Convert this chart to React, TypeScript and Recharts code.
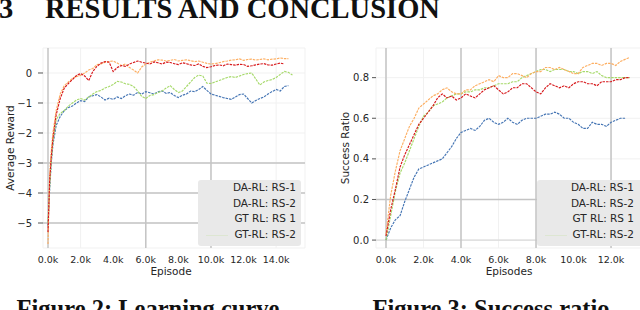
import React from 'react';
import { LineChart, Line, XAxis, YAxis, CartesianGrid, ReferenceLine } from 'recharts';

// ---------- shared ----------
const SERIES_NAMES = ['DA-RL: RS-1', 'DA-RL: RS-2', 'GT RL: RS 1', 'GT-RL: RS-2'];
const SERIES_COLORS = ['#d7191c', '#fdae61', '#4575b4', '#a6d96a'];
const DRAW_ORDER = [2, 3, 1, 0];

// ---------- Figure 2: learning curve (episodes in thousands) ----------
const LEFT_EPISODES = [0, 0.1, 0.2, 0.3, 0.5, 0.75,
  1, 1.25, 1.5, 1.75, 2, 2.25, 2.5, 2.75, 3, 3.25, 3.5, 3.75, 4, 4.25, 4.5, 4.75,
  5, 5.25, 5.5, 5.75, 6, 6.25, 6.5, 6.75, 7, 7.25, 7.5, 7.75, 8, 8.25, 8.5, 8.75,
  9, 9.25, 9.5, 9.75, 10, 10.25, 10.5, 10.75, 11, 11.25, 11.5, 11.75, 12, 12.25, 12.5, 12.75,
  13, 13.25, 13.5, 13.75, 14, 14.25, 14.5, 14.75, 15];
const LEFT_RED = [-5.3, -3.6, -2.8, -2.2, -1.4, -0.85,
  -0.5, -0.35, -0.22, -0.08, -0.02, -0.1, -0.25, 0.05, 0.22, 0.33, 0.38, 0.36, 0.05, 0.18, 0.25, 0.22,
  0.3, 0.35, 0.4, 0.36, 0.33, 0.3, 0.37, 0.34, 0.3, 0.36, 0.35, 0.31, 0.28, 0.34, 0.31, 0.27,
  0.25, 0.3, 0.22, 0.18, 0.21, 0.25, 0.27, 0.24, 0.3, 0.28, 0.26, 0.29, 0.28, 0.22, 0.24, 0.27,
  0.3, 0.31, 0.27, 0.26, 0.3, 0.33, 0.3, null, null];
const LEFT_ORANGE = [-5.7, -3.4, -2.6, -2.0, -1.25, -0.7,
  -0.42, -0.3, -0.18, -0.12, -0.08, 0.0, 0.1, 0.15, 0.28, 0.3, 0.36, 0.38, 0.4, 0.33, 0.25, 0.3,
  0.18, 0.1, 0.0, 0.2, 0.3, 0.36, 0.4, 0.44, 0.43, 0.4, 0.42, 0.45, 0.4, 0.42, 0.44, 0.41,
  0.38, 0.4, 0.36, 0.32, 0.3, 0.31, 0.34, 0.38, 0.4, 0.43, 0.44, 0.47, 0.42, 0.45, 0.46, 0.43,
  0.45, 0.47, 0.44, 0.46, 0.47, 0.5, 0.48, 0.48, null];
const LEFT_BLUE = [-5.1, -3.9, -3.0, -2.4, -1.75, -1.45,
  -1.25, -1.15, -1.1, -1.0, -0.92, -0.95, -0.8, -0.76, -0.72, -0.8, -0.9, -0.84, -0.88, -0.8, -0.85, -0.76,
  -0.7, -0.74, -0.65, -0.7, -0.62, -0.66, -0.7, -0.63, -0.6, -0.68, -0.65, -0.75, -0.82, -0.74, -0.7, -0.6,
  -0.62, -0.55, -0.45, -0.58, -0.7, -0.74, -0.78, -0.82, -0.85, -0.88, -0.8, -0.72, -0.7, -0.85, -1.0, -0.92,
  -0.85, -0.8, -0.7, -0.62, -0.55, -0.6, -0.45, -0.42, null];
const LEFT_GREEN = [-5.0, -3.8, -2.9, -2.3, -1.55, -1.35,
  -1.25, -1.1, -1.0, -0.9, -0.85, -0.9, -0.8, -0.7, -0.62, -0.58, -0.5, -0.45, -0.38, -0.28, -0.3, -0.36,
  -0.38, -0.45, -0.6, -0.78, -0.85, -0.75, -0.72, -0.65, -0.6, -0.5, -0.42, -0.55, -0.65, -0.6, -0.45, -0.3,
  -0.15, -0.07, -0.1, -0.34, -0.35, -0.3, -0.25, -0.2, -0.15, -0.12, -0.15, -0.1, -0.05, -0.02, 0.0, -0.2,
  -0.4, -0.3, -0.25, -0.22, -0.15, -0.05, 0.05, 0.02, -0.07];
const LEFT_X_TICKS = [0, 2, 4, 6, 8, 10, 12, 14];
const LEFT_Y_TICKS = [-5, -4, -3, -2, -1, 0];

// ---------- Figure 3: success ratio (episodes in thousands) ----------
const RIGHT_EPISODES = [0, 0.25, 0.5, 0.75, 1, 1.25, 1.5, 1.75, 2, 2.25, 2.5, 2.75, 3, 3.25, 3.5, 3.75,
  4, 4.25, 4.5, 4.75, 5, 5.25, 5.5, 5.75, 6, 6.25, 6.5, 6.75, 7, 7.25, 7.5, 7.75,
  8, 8.25, 8.5, 8.75, 9, 9.25, 9.5, 9.75, 10, 10.25, 10.5, 10.75, 11, 11.25, 11.5, 11.75,
  12, 12.25, 12.5, 12.75, 13];
const RIGHT_RED = [0.02, 0.15, 0.25, 0.36, 0.42, 0.47, 0.52, 0.57, 0.6, 0.63, 0.66, 0.7, 0.72, 0.7, 0.71, 0.69,
  0.7, 0.72, 0.71, 0.7, 0.72, 0.74, 0.75, 0.76, 0.74, 0.72, 0.73, 0.75, 0.75, 0.77, 0.77, 0.75,
  0.73, 0.72, 0.75, 0.77, 0.76, 0.75, 0.76, 0.75, 0.77, 0.78, 0.78, 0.77, 0.77, 0.76, 0.78, 0.78,
  0.78, 0.79, 0.79, 0.8, 0.8];
const RIGHT_ORANGE = [0.03, 0.22, 0.34, 0.44, 0.5, 0.56, 0.6, 0.65, 0.67, 0.69, 0.71, 0.72, 0.74, 0.75, 0.73, 0.72,
  0.72, 0.74, 0.74, 0.76, 0.77, 0.78, 0.79, 0.78, 0.81, 0.8, 0.8, 0.82, 0.82, 0.81, 0.8, 0.82,
  0.83, 0.83, 0.85, 0.85, 0.84, 0.85, 0.84, 0.83, 0.82, 0.82, 0.85, 0.86, 0.87, 0.87, 0.86, 0.87,
  0.87, 0.86, 0.88, 0.89, 0.9];
const RIGHT_BLUE = [0.0, 0.06, 0.1, 0.12, 0.19, 0.25, 0.31, 0.35, 0.36, 0.37, 0.38, 0.39, 0.4, 0.43, 0.46, 0.5,
  0.53, 0.54, 0.55, 0.54, 0.56, 0.59, 0.6, 0.58, 0.57, 0.58, 0.6, 0.58, 0.57, 0.59, 0.6, 0.6,
  0.6, 0.61, 0.62, 0.62, 0.63, 0.62, 0.6, 0.6, 0.58, 0.57, 0.55, 0.55, 0.58, 0.57, 0.57, 0.56,
  0.58, 0.59, 0.6, 0.6, null];
const RIGHT_GREEN = [0.0, 0.12, 0.24, 0.33, 0.38, 0.44, 0.5, 0.56, 0.61, 0.63, 0.66, 0.67, 0.68, 0.7, 0.71, 0.72,
  0.72, 0.73, 0.73, 0.74, 0.74, 0.75, 0.75, 0.76, 0.77, 0.77, 0.77, 0.78, 0.78, 0.8, 0.81, 0.82,
  0.83, 0.84, 0.84, 0.83, 0.84, 0.84, 0.84, 0.83, 0.83, 0.82, 0.83, 0.83, 0.82, 0.83, 0.81, 0.8,
  0.8, 0.8, 0.8, 0.8, 0.8];
const RIGHT_X_TICKS = [0, 2, 4, 6, 8, 10, 12];
const RIGHT_Y_TICKS = [0, 0.2, 0.4, 0.6, 0.8];

const buildRows = (eps: number[], series: (number | null)[][]) =>
  eps.map((ep, i) => {
    const row: Record<string, number | null> = { ep };
    series.forEach((s, k) => {
      row['s' + k] = s[i];
    });
    return row;
  });

const leftRows = buildRows(LEFT_EPISODES, [LEFT_RED, LEFT_ORANGE, LEFT_BLUE, LEFT_GREEN]);
const rightRows = buildRows(RIGHT_EPISODES, [RIGHT_RED, RIGHT_ORANGE, RIGHT_BLUE, RIGHT_GREEN]);

const FONT = '"DejaVu Sans", sans-serif';
const SERIF = '"Liberation Serif", serif';
const GRID_STRONG = '#c4c4c4';
const minus = (v: number) => (v < 0 ? '\u2212' + Math.abs(v) : String(v));

const Lines = () =>
  DRAW_ORDER.map((k) => (
    <Line
      key={k}
      dataKey={'s' + k}
      name={SERIES_NAMES[k]}
      stroke={SERIES_COLORS[k]}
      strokeWidth={1.15}
      strokeDasharray="2.5 1"
      dot={false}
      connectNulls={false}
      type="linear"
      isAnimationActive={false}
    />
  ));

const LegendBox = ({ left, width, padRight }: { left: number; width: number; padRight: number }) => (
  <div
    style={{
      position: 'absolute',
      left,
      top: 180,
      width,
      height: 66,
      background: '#e9e9e9',
      borderRadius: 3,
      boxSizing: 'border-box',
      paddingRight: padRight,
      fontFamily: FONT,
      fontSize: 10.5,
      color: '#262626',
    }}
  >
    {SERIES_NAMES.map((n, k) => (
      <div key={n} style={{ height: 15.6, lineHeight: '15.6px', textAlign: 'right', position: 'relative' }}>
        {k === 3 && (
          <span
            style={{
              position: 'absolute',
              left: 8,
              top: 8,
              width: 22,
              borderTop: '1px solid ' + SERIES_COLORS[k],
              opacity: 0.18,
            }}
          />
        )}
        {n}
      </div>
    ))}
  </div>
);

export default function App() {
  const tickStyle = { fontSize: 9.5, fill: '#262626', fontFamily: FONT };
  const yTickStyle = { fontSize: 10, fill: '#262626', fontFamily: FONT };
  return (
    <div style={{ position: 'absolute', left: 0, top: 0, width: 640, height: 310, overflow: 'hidden', background: '#fff' }}>
      <svg width={640} height={310} style={{ position: 'absolute', left: 0, top: 0 }}>
        <text x={-1} y={18} fontFamily={SERIF} fontWeight="bold" fontSize={28.5} fill="#111">3</text>
        <text x={45} y={18} fontFamily={SERIF} fontWeight="bold" fontSize={28.5} fill="#111">RESULTS AND CONCLUSION</text>
        <text x={148} y={317} textAnchor="middle" fontFamily={SERIF} fontWeight="bold" fontSize={24.5} fill="#111">Figure 2: Learning curve</text>
        <text x={491} y={317} textAnchor="middle" fontFamily={SERIF} fontWeight="bold" fontSize={24.5} fill="#111">Figure 3: Success ratio</text>
      </svg>

      <div style={{ position: 'absolute', left: 0, top: 0 }}>
        <LineChart width={320} height={300} data={leftRows} margin={{ top: 48, right: 15, left: 0, bottom: 22 }}>
          <CartesianGrid stroke="#f1f1f1" strokeWidth={1} />
          <XAxis
            dataKey="ep"
            type="number"
            domain={[-0.307, 15.77]}
            allowDataOverflow
            ticks={LEFT_X_TICKS}
            tickFormatter={(v: number) => v.toFixed(1) + 'k'}
            tick={tickStyle}
            tickLine={false}
            axisLine={false}
            tickSize={0}
            tickMargin={8}
            height={30}
            label={{ value: 'Episode', position: 'insideBottom', offset: 3, dx: -3, style: { fontSize: 10.5, fill: '#262626', fontFamily: FONT } }}
          />
          <YAxis
            type="number"
            domain={[-5.833, 0.833]}
            allowDataOverflow
            ticks={LEFT_Y_TICKS}
            tickFormatter={minus}
            tick={yTickStyle}
            tickLine={{ stroke: '#555' }}
            axisLine={false}
            tickSize={5}
            tickMargin={6}
            width={43}
            label={{ value: 'Average Reward', angle: -90, position: 'insideLeft', offset: 10, style: { textAnchor: 'middle', fontSize: 10.5, fill: '#262626', fontFamily: FONT } }}
          />
          <ReferenceLine y={-3} stroke={GRID_STRONG} strokeWidth={1.5} />
          <ReferenceLine y={-4} stroke={GRID_STRONG} strokeWidth={1.5} />
          <ReferenceLine y={-5} stroke={GRID_STRONG} strokeWidth={1.5} />
          <ReferenceLine x={0} stroke={GRID_STRONG} strokeWidth={1.5} />
          <ReferenceLine x={6} stroke={GRID_STRONG} strokeWidth={1.5} />
          <ReferenceLine x={10} stroke={GRID_STRONG} strokeWidth={1.5} />
          {Lines()}
        </LineChart>
      </div>

      <div style={{ position: 'absolute', left: 320, top: 0 }}>
        <LineChart width={340} height={300} data={rightRows} margin={{ top: 48, right: 0, left: 0, bottom: 22 }}>
          <CartesianGrid stroke="#f1f1f1" strokeWidth={1} />
          <XAxis
            dataKey="ep"
            type="number"
            domain={[-0.533, 14.61]}
            allowDataOverflow
            ticks={RIGHT_X_TICKS}
            tickFormatter={(v: number) => v.toFixed(1) + 'k'}
            tick={tickStyle}
            tickLine={false}
            axisLine={false}
            tickSize={0}
            tickMargin={8}
            height={30}
            label={{ value: 'Episodes', position: 'insideBottom', offset: 3, dx: -9, style: { fontSize: 10.5, fill: '#262626', fontFamily: FONT } }}
          />
          <YAxis
            type="number"
            domain={[-0.039, 0.946]}
            allowDataOverflow
            ticks={RIGHT_Y_TICKS}
            tickFormatter={(v: number) => v.toFixed(1)}
            tick={yTickStyle}
            tickLine={{ stroke: '#555' }}
            axisLine={false}
            tickSize={4}
            tickMargin={3}
            width={56}
            label={{ value: 'Success Ratio', angle: -90, position: 'insideLeft', offset: 25, style: { textAnchor: 'middle', fontSize: 10.5, fill: '#262626', fontFamily: FONT } }}
          />
          <ReferenceLine y={0} stroke="#dadada" strokeWidth={1.2} />
          <ReferenceLine y={0.2} stroke={GRID_STRONG} strokeWidth={1.5} />
          <ReferenceLine x={0} stroke={GRID_STRONG} strokeWidth={1.5} />
          <ReferenceLine x={4} stroke={GRID_STRONG} strokeWidth={1.5} />
          <ReferenceLine x={8} stroke={GRID_STRONG} strokeWidth={1.5} />
          <ReferenceLine x={12} stroke={GRID_STRONG} strokeWidth={1.5} />
          {Lines()}
        </LineChart>
      </div>

      <LegendBox left={198} width={103} padRight={5} />
      <LegendBox left={537} width={110} padRight={13} />
    </div>
  );
}
